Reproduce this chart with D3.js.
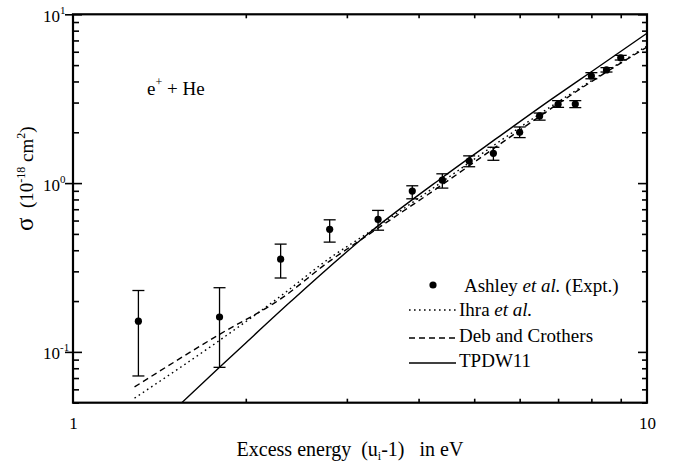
<!DOCTYPE html>
<html>
<head>
<meta charset="utf-8">
<script src="https://cdn.jsdelivr.net/npm/d3@7"></script>
<style>
    body { margin: 0; background: #fff; }
    text { font-family: "Liberation Serif", "Times New Roman", serif; fill: #000; }
</style>
</head>
<body>
<div id="chart"></div>
<script>

/*
DATA
*/

// Ashley et al. measurements
const exptEnergy = [1.3, 1.8, 2.3, 2.8, 3.4, 3.9, 4.4, 4.9, 5.4, 6.0, 6.5, 7.0, 7.5, 8.0, 8.5, 9.0];
const exptSigma = [0.152, 0.161, 0.354, 0.532, 0.609, 0.897, 1.04, 1.35, 1.50, 2.00, 2.50, 2.93, 2.94, 4.31, 4.68, 5.53];
const exptLow = [0.072, 0.081, 0.274, 0.447, 0.526, 0.807, 0.934, 1.25, 1.365, 1.86, 2.36, 2.81, 2.80, 4.15, 4.55, 5.36];
const exptHigh = [0.231, 0.240, 0.435, 0.606, 0.689, 0.964, 1.135, 1.45, 1.63, 2.15, 2.60, 3.08, 3.08, 4.51, 4.83, 5.71];

// theory curves
const ihraEnergy = [1.28, 1.8, 2.3, 2.8, 3.3, 4.4, 5.5, 6.8, 8.0, 10];
const ihraSigma = [0.0532, 0.117, 0.214, 0.359, 0.519, 1.02, 1.74, 2.84, 4.04, 6.49];

const debEnergy = [1.28, 1.8, 2.3, 2.8, 3.3, 4.4, 5.5, 6.8, 8.0, 10];
const debSigma = [0.062, 0.127, 0.206, 0.345, 0.505, 0.98, 1.67, 2.76, 3.99, 6.40];

const tpdwEnergy = [1.547, 1.8, 2.0, 2.4, 3.3, 4.4, 5.5, 6.8, 8.0, 10];
const tpdwSigma = [0.05, 0.081, 0.113, 0.2, 0.515, 1.08, 1.865, 3.12, 4.57, 7.72];

// axis ticks
const xMinorTicks = [2, 3, 4, 5, 6, 7, 8, 9];
const xLabelTicks = [1, 10];
const yMajorTicks = [0.1, 1, 10];
const yMajorExp = ["-1", "0", "1"];
const yMinorTicks = [0.05, 0.06, 0.07, 0.08, 0.09, 0.2, 0.3, 0.4, 0.5, 0.6, 0.7, 0.8, 0.9, 2, 3, 4, 5, 6, 7, 8, 9];

const legendNames = ["Ihra", "Deb and Crothers", "TPDW11"];

/*
CANVAS
*/

const width = 673;
const height = 463;
const margin = {top: 14.3, left: 73, right: 26, bottom: 60.3};

const svg = d3.select("#chart")
    .append("svg")
    .attr("width", width)
    .attr("height", height);

svg.append("rect")
    .attr("width", width)
    .attr("height", height)
    .attr("fill", "white");

/*
SCALES
*/

const xScale = d3.scaleLog()
    .domain([1, 10])
    .range([margin.left, width - margin.right]);

const yScale = d3.scaleLog()
    .domain([0.05, 10])
    .range([height - margin.bottom, margin.top]);

svg.append("clipPath")
    .attr("id", "plotClip")
    .append("rect")
    .attr("x", margin.left)
    .attr("y", margin.top)
    .attr("width", width - margin.left - margin.right)
    .attr("height", height - margin.top - margin.bottom);

/*
CURVES
*/

function curveData(es, ss){
    return es.map(function(e, i){ return {e: e, s: ss[i]}; });
}

const line = d3.line()
    .x(function(d){ return xScale(d.e); })
    .y(function(d){ return yScale(d.s); })
    .curve(d3.curveMonotoneX);

const curves = [
    {data: curveData(ihraEnergy, ihraSigma), dash: "1.6,3.4"},
    {data: curveData(debEnergy, debSigma), dash: "6,4"},
    {data: curveData(tpdwEnergy, tpdwSigma), dash: null}
];

svg.append("g")
    .attr("clip-path", "url(#plotClip)")
    .selectAll("path")
    .data(curves)
    .enter()
    .append("path")
    .attr("d", function(d){ return line(d.data); })
    .attr("fill", "none")
    .attr("stroke", "black")
    .attr("stroke-width", 1.4)
    .attr("stroke-dasharray", function(d){ return d.dash; });

/*
DATA POINTS
*/

const expt = exptEnergy.map(function(e, i){
    return {e: e, s: exptSigma[i], lo: exptLow[i], hi: exptHigh[i]};
});

const cap = 6;
const pts = svg.append("g");

pts.selectAll(".errBar")
    .data(expt)
    .enter()
    .append("line")
    .attr("x1", function(d){ return xScale(d.e); })
    .attr("x2", function(d){ return xScale(d.e); })
    .attr("y1", function(d){ return yScale(d.lo); })
    .attr("y2", function(d){ return yScale(d.hi); })
    .attr("stroke", "black")
    .attr("stroke-width", 1.3);

["lo", "hi"].forEach(function(k){
    pts.selectAll(".cap-" + k)
        .data(expt)
        .enter()
        .append("line")
        .attr("x1", function(d){ return xScale(d.e) - cap; })
        .attr("x2", function(d){ return xScale(d.e) + cap; })
        .attr("y1", function(d){ return yScale(d[k]); })
        .attr("y2", function(d){ return yScale(d[k]); })
        .attr("stroke", "black")
        .attr("stroke-width", 1.3);
});

pts.selectAll("circle")
    .data(expt)
    .enter()
    .append("circle")
    .attr("cx", function(d){ return xScale(d.e); })
    .attr("cy", function(d){ return yScale(d.s); })
    .attr("r", 3.6)
    .attr("fill", "black");

/*
AXES
*/

const plotW = width - margin.left - margin.right;
const plotH = height - margin.top - margin.bottom;

function cleanAxis(g){
    g.select(".domain").remove();
    g.selectAll("line").attr("stroke", "black").attr("stroke-width", 1.6);
}

// bottom + top minor ticks (inward)
svg.append("g")
    .attr("transform", `translate(0, ${height - margin.bottom})`)
    .call(d3.axisBottom(xScale).tickValues(xMinorTicks).tickSize(-4).tickFormat(""))
    .call(cleanAxis);

svg.append("g")
    .attr("transform", `translate(0, ${margin.top})`)
    .call(d3.axisTop(xScale).tickValues(xMinorTicks).tickSize(-4).tickFormat(""))
    .call(cleanAxis);

// x labels 1 and 10
svg.append("g")
    .attr("transform", `translate(0, ${height - margin.bottom})`)
    .call(d3.axisBottom(xScale).tickValues(xLabelTicks).tickSize(0).tickPadding(14)
        .tickFormat(function(d){ return d; }))
    .call(function(g){
        g.select(".domain").remove();
        g.selectAll("text")
            .style("font-family", "Liberation Serif")
            .style("font-size", "17px")
            .attr("fill", "black");
    });

// left minor (inward), major (both sides)
svg.append("g")
    .attr("transform", `translate(${margin.left}, 0)`)
    .call(d3.axisLeft(yScale).tickValues(yMinorTicks).tickSize(-6).tickFormat(""))
    .call(cleanAxis);

svg.append("g")
    .attr("transform", `translate(${margin.left}, 0)`)
    .call(d3.axisLeft(yScale).tickValues(yMajorTicks).tickSizeInner(-9).tickSizeOuter(0).tickFormat(""))
    .call(cleanAxis);

svg.append("g")
    .attr("transform", `translate(${margin.left}, 0)`)
    .call(d3.axisLeft(yScale).tickValues(yMajorTicks).tickSizeInner(8).tickSizeOuter(0).tickFormat(""))
    .call(cleanAxis);

// right minor + major (inward)
svg.append("g")
    .attr("transform", `translate(${width - margin.right}, 0)`)
    .call(d3.axisRight(yScale).tickValues(yMinorTicks).tickSize(-5).tickFormat(""))
    .call(cleanAxis);

svg.append("g")
    .attr("transform", `translate(${width - margin.right}, 0)`)
    .call(d3.axisRight(yScale).tickValues(yMajorTicks).tickSize(-9).tickFormat(""))
    .call(cleanAxis);

// frame
svg.append("rect")
    .attr("x", margin.left)
    .attr("y", margin.top)
    .attr("width", plotW)
    .attr("height", plotH)
    .attr("fill", "none")
    .attr("stroke", "black")
    .attr("stroke-width", 2.2);

// y labels as 10^n
yMajorTicks.forEach(function(v, i){
    const t = svg.append("text")
        .attr("x", 43)
        .attr("y", yScale(v) + 7.5)
        .style("font-size", "17px");
    t.append("tspan").text("10");
    t.append("tspan")
        .attr("dy", -8)
        .style("font-size", "11px")
        .text(yMajorExp[i]);
});

/*
TITLES
*/

const xTitle = svg.append("text")
    .attr("x", 350)
    .attr("y", 456)
    .attr("text-anchor", "middle")
    .style("font-size", "20px");
xTitle.append("tspan").text("Excess energy\u00a0\u00a0(u");
xTitle.append("tspan").attr("dy", 4).style("font-size", "12px").text("i");
xTitle.append("tspan").attr("dy", -4).text("-1)\u00a0\u00a0\u00a0in eV");

const yTitle = svg.append("text")
    .attr("transform", "translate(33, 231) rotate(-90)")
    .style("font-size", "19px");
yTitle.append("tspan").style("font-size", "25px").text("\u03c3");
yTitle.append("tspan").text("\u00a0\u00a0(10");
yTitle.append("tspan").attr("dy", -8).style("font-size", "12px").text("-18");
yTitle.append("tspan").attr("dy", 8).text(" cm");
yTitle.append("tspan").attr("dy", -8).style("font-size", "12px").text("2");
yTitle.append("tspan").attr("dy", 8).text(")");

const label = svg.append("text")
    .attr("x", 147)
    .attr("y", 95)
    .style("font-size", "19px");
label.append("tspan").text("e");
label.append("tspan").attr("dy", -9).style("font-size", "12px").text("+");
label.append("tspan").attr("dy", 9).text(" + He");

/*
LEGEND
*/

const legX1 = 409;
const legX2 = 456;
const legTextX = 459;

svg.append("circle")
    .attr("cx", 433)
    .attr("cy", 285)
    .attr("r", 3.6)
    .attr("fill", "black");

const legA = svg.append("text")
    .attr("x", 464)
    .attr("y", 292)
    .style("font-size", "19px");
legA.append("tspan").text("Ashley ");
legA.append("tspan").style("font-style", "italic").text("et al.");
legA.append("tspan").text(" (Expt.)");

const legLineY = [310, 338, 363];
const legTextY = [316, 342, 367];

curves.forEach(function(c, i){
    svg.append("line")
        .attr("x1", legX1)
        .attr("x2", legX2)
        .attr("y1", legLineY[i])
        .attr("y2", legLineY[i])
        .attr("stroke", "black")
        .attr("stroke-width", 1.4)
        .attr("stroke-dasharray", c.dash);

    const t = svg.append("text")
        .attr("x", legTextX)
        .attr("y", legTextY[i])
        .style("font-size", "19px");
    if (i == 0){
        t.append("tspan").text(legendNames[i] + " ");
        t.append("tspan").style("font-style", "italic").text("et al.");
    } else {
        t.text(legendNames[i]);
    }
});

</script>
</body>
</html>
